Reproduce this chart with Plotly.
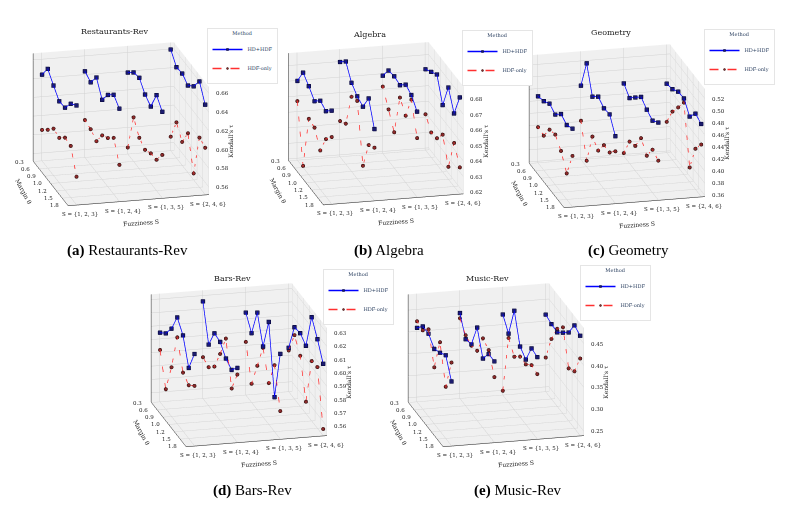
import plotly.graph_objects as go

FUZZINESS = ["S = {1, 2, 3}", "S = {1, 2, 4}", "S = {1, 3, 5}", "S = {2, 4, 6}"]
MARGINS = ["0.3", "0.6", "0.9", "1.0", "1.2", "1.5", "1.8"]

# Kendall's tau, one row (7 margins) per fuzziness setting
RESTAURANTS_HD = [
    [0.644, 0.658, 0.648, 0.639, 0.640, 0.652, 0.658],
    [0.644, 0.640, 0.653, 0.637, 0.650, 0.658, 0.651],
    [0.639, 0.647, 0.649, 0.639, 0.634, 0.654, 0.644],
    [0.660, 0.649, 0.650, 0.645, 0.652, 0.665, 0.648],
]
RESTAURANTS_HDF = [
    [0.585, 0.593, 0.602, 0.600, 0.608, 0.607, 0.582],
    [0.592, 0.590, 0.585, 0.599, 0.604, 0.612, 0.591],
    [0.559, 0.599, 0.585, 0.580, 0.584, 0.585, 0.598],
    [0.567, 0.590, 0.577, 0.594, 0.559, 0.605, 0.602],
]
ALGEBRA_HD = [
    [0.670, 0.680, 0.676, 0.671, 0.676, 0.674, 0.679],
    [0.680, 0.685, 0.676, 0.672, 0.670, 0.680, 0.665],
    [0.669, 0.677, 0.678, 0.677, 0.682, 0.680, 0.674],
    [0.671, 0.674, 0.677, 0.662, 0.678, 0.666, 0.681],
]
ALGEBRA_HDF = [
    [0.657, 0.620, 0.655, 0.654, 0.644, 0.656, 0.662],
    [0.642, 0.645, 0.667, 0.669, 0.632, 0.650, 0.653],
    [0.662, 0.652, 0.642, 0.669, 0.662, 0.677, 0.657],
    [0.642, 0.635, 0.636, 0.643, 0.627, 0.647, 0.636],
]
GEOMETRY_HD = [
    [0.468, 0.472, 0.480, 0.474, 0.487, 0.481, 0.487],
    [0.480, 0.529, 0.486, 0.498, 0.491, 0.493, 0.469],
    [0.478, 0.466, 0.479, 0.492, 0.483, 0.477, 0.486],
    [0.472, 0.475, 0.483, 0.484, 0.466, 0.483, 0.478],
]
GEOMETRY_HDF = [
    [0.417, 0.415, 0.437, 0.441, 0.426, 0.401, 0.442],
    [0.422, 0.368, 0.420, 0.409, 0.430, 0.430, 0.444],
    [0.363, 0.394, 0.399, 0.424, 0.407, 0.429, 0.423],
    [0.409, 0.438, 0.457, 0.477, 0.382, 0.425, 0.444],
]
BARS_HD = [
    [0.605, 0.610, 0.619, 0.633, 0.625, 0.606, 0.622],
    [0.626, 0.599, 0.613, 0.612, 0.605, 0.602, 0.609],
    [0.615, 0.605, 0.626, 0.606, 0.630, 0.579, 0.617],
    [0.586, 0.607, 0.608, 0.604, 0.631, 0.620, 0.607],
]
BARS_HDF = [
    [0.592, 0.568, 0.590, 0.618, 0.597, 0.593, 0.598],
    [0.584, 0.582, 0.588, 0.603, 0.620, 0.588, 0.604],
    [0.593, 0.567, 0.586, 0.605, 0.584, 0.603, 0.574],
    [0.584, 0.601, 0.591, 0.562, 0.598, 0.599, 0.558],
]
MUSIC_HD = [
    [0.409, 0.429, 0.429, 0.411, 0.419, 0.430, 0.387],
    [0.435, 0.392, 0.397, 0.452, 0.398, 0.425, 0.425],
    [0.424, 0.397, 0.466, 0.401, 0.388, 0.430, 0.427],
    [0.416, 0.411, 0.409, 0.425, 0.442, 0.475, 0.468],
]
MUSIC_HDF = [
    [0.424, 0.420, 0.439, 0.369, 0.443, 0.358, 0.430],
    [0.423, 0.401, 0.394, 0.399, 0.444, 0.434, 0.389],
    [0.250, 0.387, 0.361, 0.378, 0.377, 0.392, 0.388],
    [0.318, 0.377, 0.417, 0.437, 0.360, 0.370, 0.416],
]

Z_TICKS = {
    "Restaurants-Rev": [0.56, 0.58, 0.60, 0.62, 0.64, 0.66],
    "Algebra": [0.62, 0.63, 0.64, 0.65, 0.66, 0.67, 0.68],
    "Geometry": [0.36, 0.38, 0.40, 0.42, 0.44, 0.46, 0.48, 0.50, 0.52],
    "Bars-Rev": [0.56, 0.57, 0.58, 0.59, 0.60, 0.61, 0.62, 0.63],
    "Music-Rev": [0.25, 0.30, 0.35, 0.40, 0.45],
}

SERIF = "DejaVu Serif"
INK = "#222222"
W, H = 796, 511
OFF = 8  # the page puts the plot 8 px in from the corner
X_RANGE = [-0.2, 3.08]
Y_RANGE = [-0.05, 6.05]

# name, letter, hd, hdf, z range, scene centre (px), legend bottom-left (px), caption centre (px)
PANELS = [
    ("Restaurants-Rev", "a", RESTAURANTS_HD, RESTAURANTS_HDF, [0.552, 0.667], (121, 124), (207, 84), (128, 250)),
    ("Algebra", "b", ALGEBRA_HD, ALGEBRA_HDF, [0.619, 0.688], (376, 123), (462, 86), (389, 250)),
    ("Geometry", "c", GEOMETRY_HD, GEOMETRY_HDF, [0.358, 0.536], (617, 126), (704, 85), (628, 250)),
    ("Bars-Rev", "d", BARS_HD, BARS_HDF, [0.553, 0.634], (239, 365), (323, 325), (252, 490)),
    ("Music-Rev", "e", MUSIC_HD, MUSIC_HDF, [0.24, 0.486], (496, 365), (580, 321), (518, 490)),
]
TITLE_POS = [(115, 31), (369, 34), (611, 33), (233, 278), (488, 278)]


def fx(px):
    return (px - OFF) / W


def fy(px):
    return 1 - (px - OFF) / H


def serie(grupos):
    # margin 0.3 sits at the back wall, 1.8 at the front
    xs, ys, zs = [], [], []
    n = len(MARGINS) - 1
    for i, fila in enumerate(grupos):
        for j, v in enumerate(fila):
            xs.append(i)
            ys.append(n - j)
            zs.append(v)
        xs.append(None)
        ys.append(None)
        zs.append(None)
    return xs, ys, zs


def texto(x, y, z, t, size=5.5, **kw):
    return dict(x=x, y=y, z=z, text=t, showarrow=False,
                font=dict(family=SERIF, size=size, color=INK), **kw)


fig = go.Figure()
anotaciones = []
for k, (nombre, letra, hd, hdf, zr, centro, leg, cap) in enumerate(PANELS):
    escena = "scene" if k == 0 else f"scene{k + 1}"
    leyenda = "legend" if k == 0 else f"legend{k + 1}"
    x, y, z = serie(hd)
    fig.add_trace(go.Scatter3d(
        x=x, y=y, z=z, mode="lines+markers", name="HD+HDF", scene=escena, legend=leyenda,
        line=dict(color="#0000ff", width=1.5),
        marker=dict(symbol="square", size=2, color="#1c1c6e", line=dict(color="#000033", width=0.5)),
    ))
    x, y, z = serie(hdf)
    fig.add_trace(go.Scatter3d(
        x=x, y=y, z=z, mode="lines+markers", name="HDF-only", scene=escena, legend=leyenda,
        line=dict(color="#ff3030", width=1.5, dash="dash"),
        marker=dict(symbol="circle", size=2, color="#8a2a2a", line=dict(color="#200000", width=0.5)),
    ))

    eje = dict(
        backgroundcolor="#f0f0f0", showbackground=True, gridcolor="#d2d2d2", gridwidth=1,
        showline=True, linecolor=INK, linewidth=1, zeroline=False,
        showticklabels=False, ticks="", title=dict(text=""), showspikes=False,
    )
    n = len(MARGINS) - 1
    frente, fondo_x = Y_RANGE[0], X_RANGE[0]
    # tick labels and axis titles laid out like the matplotlib original
    etiquetas = [texto(X_RANGE[1], frente, t, f"{t:.2f}", xanchor="left", xshift=5)
                 for t in Z_TICKS[nombre]]
    etiquetas.append(texto(X_RANGE[1], frente, (zr[0] + zr[1]) / 2, "Kendall's τ", size=6,
                           textangle=-90, xshift=22))
    etiquetas += [texto(fondo_x, n - j, zr[0], m, xanchor="right", xshift=-7)
                  for j, m in enumerate(MARGINS)]
    etiquetas.append(texto(fondo_x, n / 2, zr[0], "Margin θ", size=6, textangle=62,
                           xshift=-28, yshift=-8))
    etiquetas += [texto(i, frente, zr[0], s, xanchor="center", xshift=3, yshift=-9)
                  for i, s in enumerate(FUZZINESS)]
    etiquetas.append(texto(1.5, frente, zr[0], "Fuzziness S", size=6, textangle=-4, yshift=-22))

    x0, x1 = max(centro[0] - 113, OFF), centro[0] + 113
    y0, y1 = centro[1] - 116, centro[1] + 116
    fig.update_layout({escena: dict(
        domain=dict(x=[fx(x0), fx(x1)], y=[max(fy(y1), 0), min(fy(y0), 1)]),
        xaxis=dict(eje, tickvals=list(range(len(FUZZINESS))), range=X_RANGE),
        yaxis=dict(eje, tickvals=list(range(len(MARGINS))), range=Y_RANGE),
        zaxis=dict(eje, range=zr, tickvals=Z_TICKS[nombre]),
        aspectmode="manual", aspectratio=dict(x=1.25, y=1.25, z=0.98),
        camera=dict(eye=dict(x=-0.252, y=-1.012, z=0.349), projection=dict(type="orthographic")),
        annotations=etiquetas,
    )})
    fig.update_layout({leyenda: dict(
        x=fx(leg[0]), y=fy(leg[1]), xanchor="left", yanchor="bottom",
        title=dict(text="Method", side="top center", font=dict(family=SERIF, size=5)),
        font=dict(family=SERIF, size=5), bgcolor="white", bordercolor="#cccccc", borderwidth=0.5,
        itemwidth=30, tracegroupgap=0,
    )})
    tx, ty = TITLE_POS[k]
    anotaciones.append(dict(
        text=nombre, x=fx(tx), y=fy(ty), xref="paper", yref="paper",
        xanchor="center", yanchor="middle", showarrow=False, font=dict(family=SERIF, size=8, color=INK),
    ))
    anotaciones.append(dict(
        text=f"<b>({letra})</b> {nombre}", x=fx(cap[0]), y=fy(cap[1]), xref="paper", yref="paper",
        xanchor="center", yanchor="middle", showarrow=False,
        font=dict(family="Liberation Serif", size=15, color="black"),
    ))

fig.update_layout(
    width=W, height=H, margin=dict(l=0, r=0, t=0, b=0),
    paper_bgcolor="white", showlegend=True, annotations=anotaciones,
)
fig.write_html("out.html")
